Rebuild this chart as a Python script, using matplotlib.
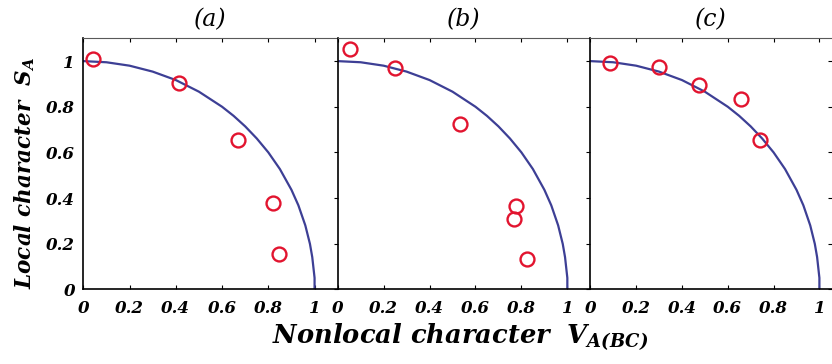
import matplotlib
matplotlib.use("Agg")
import matplotlib.pyplot as plt

plt.rcParams['font.family'] = ['DejaVu Serif']
plt.rcParams['font.weight'] = 'bold'
plt.rcParams['font.style'] = 'italic'
plt.rcParams['mathtext.fontset'] = 'custom'
plt.rcParams['mathtext.it'] = 'DejaVu Serif:italic:bold'
plt.rcParams['mathtext.rm'] = 'DejaVu Serif:italic:bold'
plt.rcParams['mathtext.bf'] = 'DejaVu Serif:italic:bold'

# boundary curve (same in every panel)
curve_v = [0, 0.1, 0.2, 0.3, 0.4, 0.5, 0.6, 0.65, 0.7, 0.75, 0.8, 0.85,
           0.9, 0.93, 0.96, 0.98, 0.99, 1.0, 1.0]
curve_s = [1.0, 0.995, 0.98, 0.954, 0.917, 0.866, 0.8, 0.76, 0.714, 0.661,
           0.6, 0.527, 0.436, 0.368, 0.28, 0.199, 0.141, 0.05, 0.0]

# measured points
a_v = [0.043, 0.413, 0.667, 0.822, 0.848]
a_s = [1.01, 0.905, 0.656, 0.38, 0.155]

b_v = [0.054, 0.250, 0.533, 0.775, 0.768, 0.823]
b_s = [1.051, 0.971, 0.725, 0.363, 0.31, 0.132]

c_v = [0.086, 0.30, 0.475, 0.658, 0.741]
c_s = [0.99, 0.974, 0.896, 0.836, 0.656]

panels = ['(a)', '(b)', '(c)']
xticks = [0, 0.2, 0.4, 0.6, 0.8, 1]
xtick_labels = ['0', '0.2', '0.4', '0.6', '0.8', '1']
yticks = [0, 0.2, 0.4, 0.6, 0.8, 1]
ytick_labels = ['0', '0.2', '0.4', '0.6', '0.8', '1']

W, H = 832, 364
fig = plt.figure(figsize=(W / 100, H / 100), dpi=100)

bottom = (H - 289.3) / H
height = 251.0 / H
boxes = [(83.3, 337.7, 1.1), (337.7, 590.3, 1.1), (590.3, 832.0, 1.055)]
data = [(a_v, a_s), (b_v, b_s), (c_v, c_s)]

blue = '#3d3f95'
red = '#e2142f'

for i, ((x0, x1, xmax), (vv, ss)) in enumerate(zip(boxes, data)):
    ax = fig.add_axes([x0 / W, bottom, (x1 - x0) / W, height])
    ax.plot(curve_v, curve_s, color=blue, lw=1.6, zorder=2)
    ax.plot(vv, ss, 'o', ms=10, mfc='none', mec=red, mew=1.7, zorder=3)
    ax.set_xlim(0, xmax)
    ax.set_ylim(0, 1.1)
    ax.set_xticks(xticks)
    ax.set_xticklabels(xtick_labels)
    ax.set_yticks(yticks)
    ax.set_yticklabels(ytick_labels)
    ax.tick_params(axis='x', direction='in', top=True, bottom=True, length=3,
                   width=0.8, labelsize=12, pad=8)
    ax.tick_params(axis='y', direction='in', left=False, right=True, length=3,
                   width=0.8, labelsize=12, labelleft=(i == 0), pad=6)
    ax.spines['right'].set_visible(False)
    ax.spines['top'].set_color('0.35')
    ax.spines['left'].set_linewidth(1.2)
    ax.spines['bottom'].set_linewidth(1.2)
    ax.set_title(panels[i], fontsize=17, pad=9)
    ax.patch.set_alpha(0)

fig.text(0.030, 0.525, r'Local character  $S_A$', rotation=90, fontsize=15.5,
         ha='center', va='center')
fig.text(0.553, 0.075, r'Nonlocal character  $V_{A(BC)}$', fontsize=18.5,
         ha='center', va='center')

plt.savefig('out.png', dpi=100)
